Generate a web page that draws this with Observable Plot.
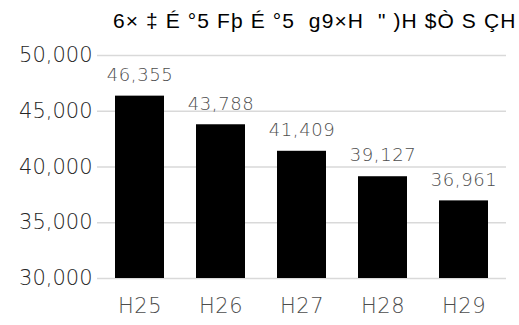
<!DOCTYPE html>
<html>
<head>
<meta charset="utf-8">
<script src="https://cdn.jsdelivr.net/npm/d3@7"></script>
<script src="https://cdn.jsdelivr.net/npm/@observablehq/plot@0.6"></script>
<style>
  body { margin: 0; background: #fff; }
  #title { font-family: "Liberation Sans", Arial, sans-serif; font-size: 21px; line-height: 22px; height: 30px; padding-top: 10px; padding-left: 113px; color: #000; white-space: pre; letter-spacing: 1.1px; }
  #chart svg text { font-weight: 200; }
  #chart g[aria-label="x-axis tick label"] text { letter-spacing: 0.5px; }
  #chart g[aria-label="text"] text { letter-spacing: 0.6px; }
</style>
</head>
<body>
<div id="title"></div>
<div id="chart"></div>
<script>
const title = "6× ‡ É °5 Fþ É °5  g9×H  \" )H $Ò S ÇH";
const categories = ["H25", "H26", "H27", "H28", "H29"];
const values = [46355, 43788, 41409, 39127, 36961];
const yTicks = [30000, 35000, 40000, 45000, 50000];

document.getElementById("title").textContent = title;
const data = categories.map((c, i) => ({ cat: c, value: values[i] }));
const fmt = d3.format(",");

const chart = Plot.plot({
  width: 519,
  height: 285,
  marginTop: 15,
  marginBottom: 47,
  marginLeft: 97,
  marginRight: 13,
  style: { fontFamily: "'DejaVu Sans', sans-serif", background: "#fff" },
  x: { domain: categories, paddingInner: 0.39, paddingOuter: 0.195, label: null },
  y: { domain: [30000, 50000], label: null },
  marks: [
    Plot.ruleY(yTicks, { stroke: "#d9d9d9", strokeWidth: 1.3 }),
    Plot.barY(data, { x: "cat", y1: 30000, y2: "value", fill: "#000" }),
    Plot.text(data, { x: "cat", y: "value", text: d => fmt(d.value), dy: -21, fontSize: 18, fill: "#4d4d4d" }),
    Plot.axisY({ ticks: yTicks, tickFormat: fmt, tickSize: 0, tickPadding: 5, fontSize: 21, color: "#262626" }),
    Plot.axisX({ tickSize: 0, tickPadding: 20, fontSize: 21, color: "#4d4d4d" })
  ]
});
document.getElementById("chart").appendChild(chart);
</script>
</body>
</html>
